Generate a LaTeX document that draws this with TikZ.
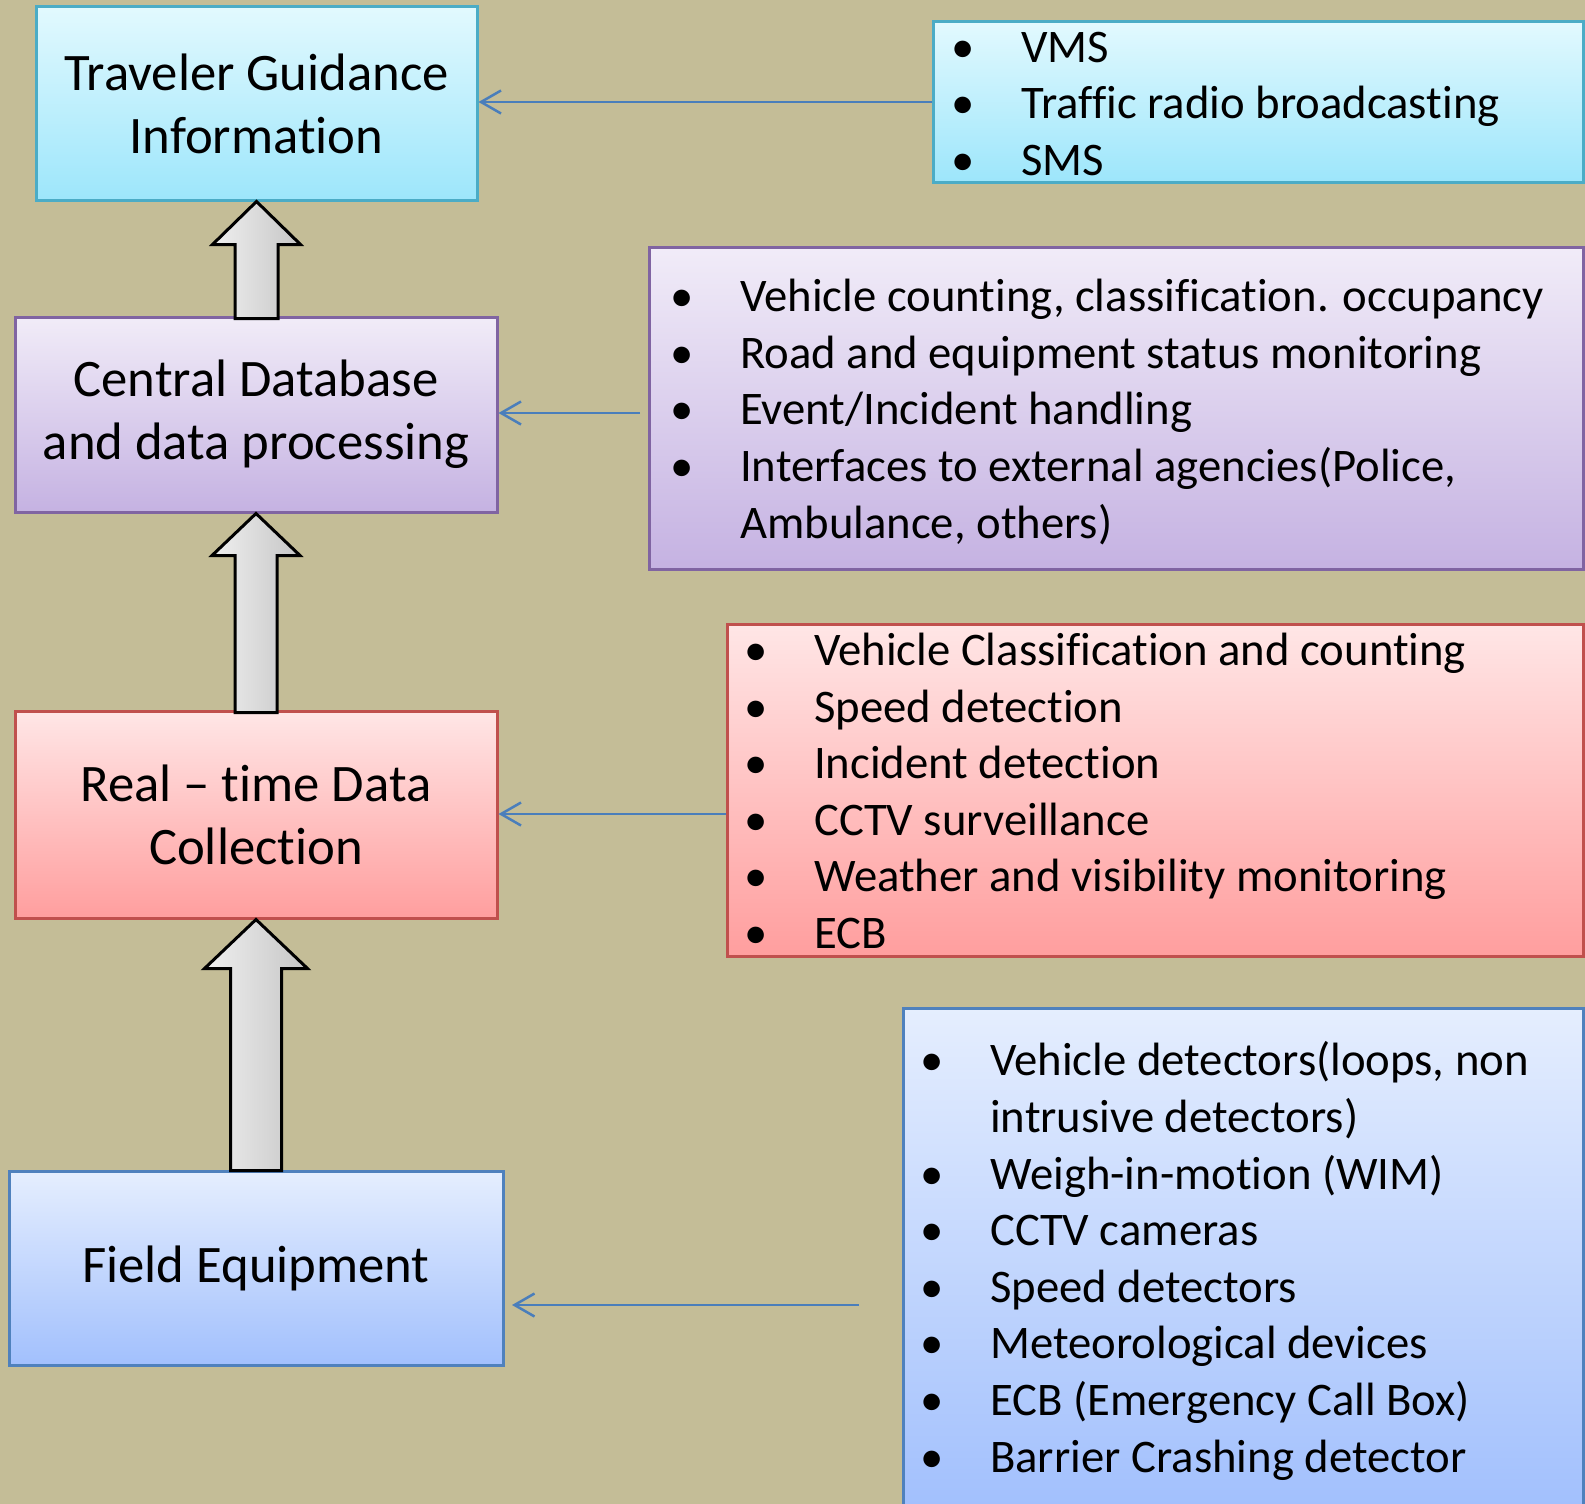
\documentclass[tikz,border=0pt]{standalone}
\usepackage{fontspec}
\setmainfont{Carlito}[Ligatures=NoCommon]
\usetikzlibrary{arrows.meta,shadings}
\definecolor{bgc}{HTML}{C4BD97}
\definecolor{cyT}{HTML}{E2F9FE}
\definecolor{cyB}{HTML}{9DE6FB}
\definecolor{cyD}{HTML}{4BACC6}
\definecolor{puT}{HTML}{F1ECF8}
\definecolor{puB}{HTML}{C5B2E2}
\definecolor{puD}{HTML}{8064A2}
\definecolor{reT}{HTML}{FFE6E6}
\definecolor{reB}{HTML}{FF9E9E}
\definecolor{reD}{HTML}{C0504D}
\definecolor{blT}{HTML}{E5EEFE}
\definecolor{blB}{HTML}{A2C0FD}
\definecolor{blD}{HTML}{4F81BD}
\definecolor{conn}{HTML}{4A7EBB}
\newcommand\bl{\makebox[70pt][l]{•}}
\newcommand\cont{\hspace*{70pt}}
\begin{document}
\begin{tikzpicture}[x=1pt,y=-1pt,
  boxbase/.style={draw, line width=3pt, inner sep=0pt, align=center},
  cybox/.style={boxbase, draw=cyD, top color=cyT, bottom color=cyB},
  pubox/.style={boxbase, draw=puD, top color=puT, bottom color=puB},
  rebox/.style={boxbase, draw=reD, top color=reT, bottom color=reB},
  blbox/.style={boxbase, draw=blD, top color=blT, bottom color=blB},
  lefttext/.style={font={\fontsize{52.7}{63}\selectfont}},
  listtext/.style={anchor=west, inner sep=0pt, align=left, font={\fontsize{46.7}{56.6}\selectfont}},
  fatarrow/.style={draw=black, line width=3pt, line join=miter, left color=gray!12, right color=gray!45},
  conarrow/.style={draw=conn, line width=2.5pt, -{Straight Barb[length=20pt,width=23pt,line width=2.5pt]}}
]
\useasboundingbox (0,0) rectangle (1585,1504);
\fill[bgc] (0,0) rectangle (1585,1504);

% left column boxes
\node[cybox, lefttext, minimum width=441pt, minimum height=193pt] (tg) at (256.5,103.5) {Traveler Guidance\\Information};
\node[pubox, lefttext, minimum width=482pt, minimum height=195pt] (cd) at (256,414.5) {Central Database\\and data processing};
\node[rebox, lefttext, minimum width=482pt, minimum height=207pt] (rt) at (256,814.5) {Real -- time Data\\Collection};
\node[blbox, lefttext, minimum width=494pt, minimum height=194pt] (fe) at (256,1268) {Field Equipment};

% right column boxes
\node[cybox, minimum width=650pt, minimum height=160pt] (tr) at (1258,102) {};
\node[pubox, minimum width=934pt, minimum height=322pt] (pr) at (1116,408) {};
\node[rebox, minimum width=856pt, minimum height=332pt] (rr) at (1155,790) {};
\node[blbox, minimum width=680pt, minimum height=498pt] (br) at (1243,1257) {};

% lists
\node[listtext] (trt) at (951,104) {\bl VMS\\\bl Traffic radio broadcasting\\\bl SMS};
\node[listtext] (prt) at (670,412) {\bl Vehicle counting, classification. occupancy\\\bl Road and equipment status monitoring\\\bl Event/Incident handling\\\bl Interfaces to external agencies(Police,\\\cont Ambulance, others)};
\node[listtext] (rrt) at (744,791) {\bl Vehicle Classification and counting\\\bl Speed detection\\\bl Incident detection\\\bl CCTV surveillance\\\bl Weather and visibility monitoring\\\bl ECB};
\node[listtext] (brt) at (920,1261) {\bl Vehicle detectors(loops, non\\\cont intrusive detectors)\\\bl Weigh-in-motion (WIM)\\\bl CCTV cameras\\\bl Speed detectors\\\bl Meteorological devices\\\bl ECB (Emergency Call Box)\\\bl Barrier Crashing detector};

% block arrows
\draw[fatarrow] (tg.south) -- ++(44,43) -- ++(-22.5,0) -- ++(0,74) -- ++(-43,0) -- ++(0,-74) -- ++(-22.5,0) -- cycle;
\draw[fatarrow] (cd.south) -- ++(44,42) -- ++(-23,0) -- ++(0,157) -- ++(-42,0) -- ++(0,-157) -- ++(-23,0) -- cycle;
\draw[fatarrow] (rt.south) -- ++(51.5,49) -- ++(-26,0) -- ++(0,202) -- ++(-51,0) -- ++(0,-202) -- ++(-26,0) -- cycle;

% connectors
\coordinate (c2) at (640,413);
\coordinate (c4) at (859,1305);
\coordinate (c4t) at (512,1305);
\draw[conarrow] (tr.west) -- (tg.east |- tr.west);
\draw[conarrow] (c2) -- (cd.east |- c2);
\draw[conarrow] (rr.west |- 0,814) -- (rt.east |- 0,814);
\draw[conarrow] (c4) -- (c4t);
\end{tikzpicture}
\end{document}
